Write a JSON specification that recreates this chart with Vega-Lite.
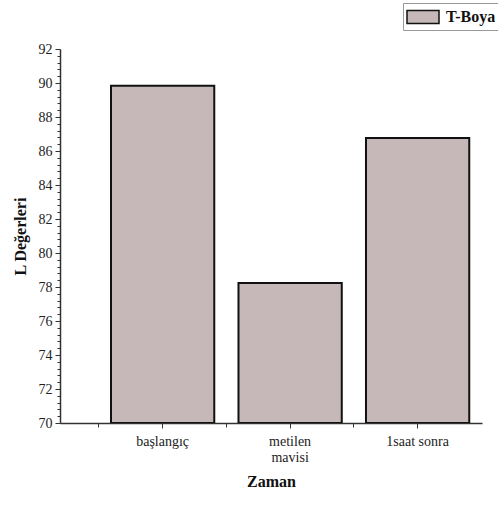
{
  "$schema": "https://vega.github.io/schema/vega-lite/v6.json",
  "autosize": "none",
  "width": 422,
  "height": 374,
  "padding": {"left": 60, "top": 49, "right": 16, "bottom": 84},
  "background": "white",
  "config": {
    "view": {"stroke": null},
    "font": "Liberation Serif",
    "axis": {
      "labelFont": "Liberation Serif",
      "titleFont": "Liberation Serif",
      "labelColor": "#222",
      "titleColor": "#111",
      "domainColor": "#333",
      "tickColor": "#333",
      "grid": false
    },
    "legend": {"labelFont": "Liberation Serif"}
  },
  "data": {
    "values": [
      {"Zaman": "başlangıç", "L": 89.84, "series": "T-Boya"},
      {"Zaman": "metilen mavisi", "L": 78.24, "series": "T-Boya"},
      {"Zaman": "1saat sonra", "L": 86.76, "series": "T-Boya"}
    ]
  },
  "layer": [
    {
      "mark": {"type": "bar", "stroke": "#111", "strokeWidth": 2, "clip": true},
      "encoding": {
        "x": {
          "field": "Zaman",
          "type": "nominal",
          "sort": null,
          "scale": {"paddingInner": 0.19, "paddingOuter": 0.25, "align": 0.8},
          "axis": {
            "title": "Zaman",
            "titleFontSize": 16,
            "titleFontWeight": "bold",
            "titlePadding": 9,
            "labelAngle": 0,
            "labelFontSize": 14,
            "labelPadding": 6,
            "tickSize": 5,
            "domainWidth": 1.5,
            "labelExpr": "datum.label == 'metilen mavisi' ? ['metilen', 'mavisi'] : datum.label"
          }
        },
        "y": {
          "field": "L",
          "type": "quantitative",
          "scale": {"domain": [70, 92], "nice": false, "zero": false},
          "axis": {
            "title": "L Değerleri",
            "titleFontSize": 16,
            "titleFontWeight": "bold",
            "titlePadding": 10,
            "values": [70, 72, 74, 76, 78, 80, 82, 84, 86, 88, 90, 92],
            "labelFontSize": 14,
            "tickSize": 5,
            "labelPadding": 3,
            "domainWidth": 1.5
          }
        },
        "y2": {"datum": 70},
        "color": {
          "field": "series",
          "type": "nominal",
          "scale": {"range": ["#c6b8b8"]},
          "legend": {
            "title": null,
            "orient": "none",
            "legendX": 343,
            "legendY": -46,
            "fillColor": "white",
            "strokeColor": "#999",
            "padding": 3,
            "symbolType": "M-1,-0.65H2.2V0.65H-1Z",
            "symbolSize": 400,
            "symbolStrokeColor": "#111",
            "symbolStrokeWidth": 1.5,
            "symbolOpacity": 1,
            "labelFont": "Liberation Serif",
            "labelFontSize": 16,
            "labelFontWeight": "bold",
            "labelColor": "#111",
            "labelOffset": 18
          }
        }
      }
    },
    {
      "mark": {"type": "bar", "opacity": 0},
      "encoding": {
        "x": {
          "field": "Zaman",
          "type": "nominal",
          "sort": null,
          "axis": {
            "orient": "bottom",
            "title": null,
            "labels": false,
            "domain": false,
            "tickSize": 4,
            "bandPosition": -0.117
          }
        },
        "y": {
          "field": "L",
          "type": "quantitative",
          "axis": {
            "orient": "left",
            "title": null,
            "labels": false,
            "domain": false,
            "tickSize": 3,
            "values": [70.4, 70.8, 71.2, 71.6, 72.4, 72.8, 73.2, 73.6, 74.4, 74.8, 75.2, 75.6, 76.4, 76.8, 77.2, 77.6, 78.4, 78.8, 79.2, 79.6, 80.4, 80.8, 81.2, 81.6, 82.4, 82.8, 83.2, 83.6, 84.4, 84.8, 85.2, 85.6, 86.4, 86.8, 87.2, 87.6, 88.4, 88.8, 89.2, 89.6, 90.4, 90.8, 91.2, 91.6]
          }
        },
        "y2": {"datum": 70}
      }
    }
  ],
  "resolve": {"axis": {"x": "independent", "y": "independent"}}
}
